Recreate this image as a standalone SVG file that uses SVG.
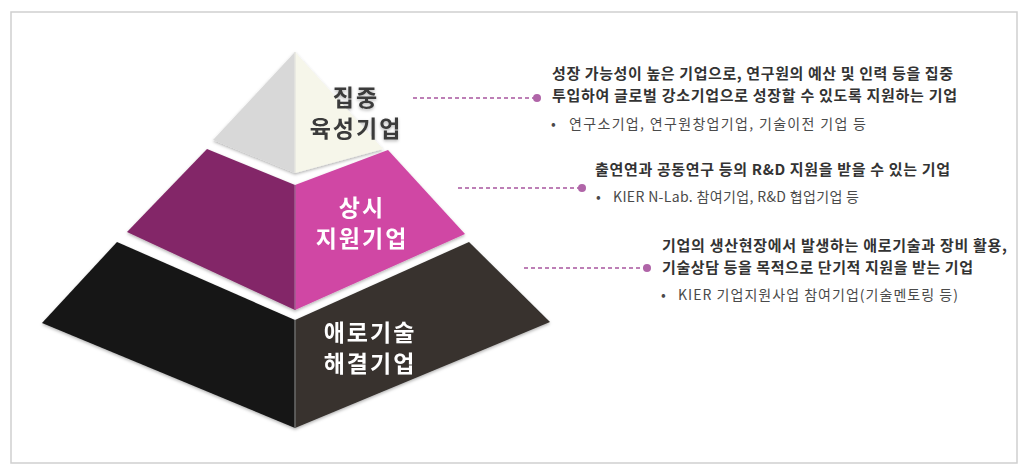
<svg xmlns="http://www.w3.org/2000/svg" width="1032" height="470" viewBox="0 0 1032 470">
<defs>
<style>
.lbl{font-family:"Noto Sans CJK KR","Noto Sans",sans-serif;font-weight:bold;font-size:23px;text-anchor:middle;letter-spacing:2px}
.hd{font-family:"Noto Sans CJK KR","Noto Sans",sans-serif;font-weight:bold;font-size:15px;fill:#333}
.bl{font-family:"Noto Sans CJK KR","Noto Sans",sans-serif;font-size:14px;fill:#4a4a4a}
.dash{stroke:#a8569e;stroke-width:1.5;stroke-dasharray:4 3;fill:none}
.dot{fill:#b065a8}
</style>
<filter id="sh" x="-10%" y="-10%" width="120%" height="130%">
<feDropShadow dx="0" dy="1.5" stdDeviation="1.5" flood-color="#000" flood-opacity="0.3"/>
</filter>
</defs>
<rect x="11" y="12" width="1006" height="451" fill="#fff" stroke="#cfcfcf" stroke-width="1.5"/>

<g id="tier-top" filter="url(#sh)">
<polygon points="295,52 213,140 295,173" fill="#d8d8d8"/>
<polygon points="295,52 383,149 295,173" fill="#f6f6ea"/>
<line x1="295" y1="52" x2="295" y2="173" stroke="#e6e6e0" stroke-width="1.5"/>
<text class="lbl" x="356" y="106" fill="#3a3a3a">집중</text>
<text class="lbl" x="356" y="137" fill="#3a3a3a">육성기업</text>
</g>

<g id="tier-middle" filter="url(#sh)">
<polygon points="207,149 127,232 295,310 295,185" fill="#832868"/>
<polygon points="295,185 388,150 465,234 295,310" fill="#d046a4"/>
<line x1="295" y1="185" x2="295" y2="310" stroke="#a06090" stroke-width="1.5"/>
<text class="lbl" x="362" y="216" fill="#fff">상시</text>
<text class="lbl" x="362" y="247" fill="#fff">지원기업</text>
</g>

<g id="tier-bottom" filter="url(#sh)">
<polygon points="117,242 42,323 295,428 295,320" fill="#161616"/>
<polygon points="295,320 469,242 550,322 295,428" fill="#37322f"/>
<line x1="295" y1="320" x2="295" y2="428" stroke="#6a6a6a" stroke-width="1.5"/>
<text class="lbl" x="370" y="341" fill="#fff">애로기술</text>
<text class="lbl" x="370" y="372" fill="#fff">해결기업</text>
</g>

<g id="connectors">
<line class="dash" x1="413" y1="98" x2="535" y2="98"/>
<circle class="dot" cx="537" cy="98" r="4"/>
<line class="dash" x1="458" y1="188" x2="580" y2="188"/>
<circle class="dot" cx="582" cy="188" r="4"/>
<line class="dash" x1="524" y1="268" x2="645" y2="268"/>
<circle class="dot" cx="647" cy="268" r="4"/>
</g>

<g id="desc-top">
<text class="hd" x="552" y="79" textLength="401" lengthAdjust="spacing">성장 가능성이 높은 기업으로, 연구원의 예산 및 인력 등을 집중</text>
<text class="hd" x="552" y="101" textLength="405" lengthAdjust="spacing">투입하여 글로벌 강소기업으로 성장할 수 있도록 지원하는 기업</text>
<text class="bl" x="551" y="129">•</text>
<text class="bl" x="569" y="129" textLength="297" lengthAdjust="spacing">연구소기업, 연구원창업기업, 기술이전 기업 등</text>
</g>

<g id="desc-middle">
<text class="hd" x="595" y="175" textLength="355" lengthAdjust="spacing">출연연과 공동연구 등의 R&amp;D 지원을 받을 수 있는 기업</text>
<text class="bl" x="596" y="202">•</text>
<text class="bl" x="613" y="202" textLength="246" lengthAdjust="spacing">KIER N-Lab. 참여기업, R&amp;D 협업기업 등</text>
</g>

<g id="desc-bottom">
<text class="hd" x="662" y="251" textLength="345" lengthAdjust="spacing">기업의 생산현장에서 발생하는 애로기술과 장비 활용,</text>
<text class="hd" x="662" y="273" textLength="311" lengthAdjust="spacing">기술상담 등을 목적으로 단기적 지원을 받는 기업</text>
<text class="bl" x="661" y="300">•</text>
<text class="bl" x="678" y="300" textLength="280" lengthAdjust="spacing">KIER 기업지원사업 참여기업(기술멘토링 등)</text>
</g>
</svg>
